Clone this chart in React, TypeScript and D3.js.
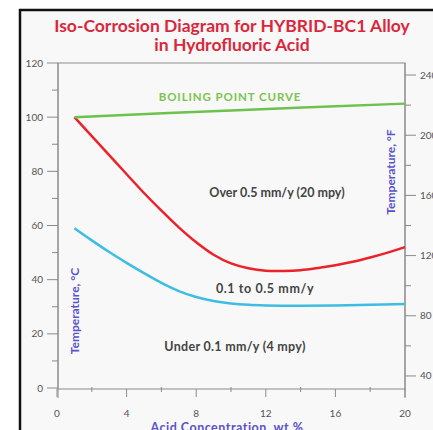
import React from 'react';
import * as d3 from 'd3';

// curve data (conc in wt %, temperature in °C)
const boilingConc = [1, 10, 20];
const boilingTemp = [100, 102.5, 105];

const upperConc = [1, 3, 5, 6, 7, 8, 9, 10, 11, 12, 13, 14, 15, 16, 17, 18, 19, 20];
const upperTemp = [100, 86, 72, 65.5, 59.3, 53.8, 49.2, 46, 44.2, 43.3, 43.2, 43.5, 44.3, 45.3, 46.6, 48.2, 50, 52];

const lowerConc = [1, 2, 3, 4, 5, 6, 7, 8, 9, 10, 11, 12, 14, 16, 18, 20];
const lowerTemp = [59, 54.5, 50.2, 46.2, 42.4, 38.8, 35.8, 33.6, 32.1, 31.2, 30.7, 30.5, 30.4, 30.5, 30.7, 31];

const xTicks = [0, 4, 8, 12, 16, 20];
const xMinor = [2, 6, 10, 14, 18];
const cTicks = [0, 20, 40, 60, 80, 100, 120];
const cMinor = [10, 30, 50, 70, 90, 110];
const fTicks = [40, 80, 120, 160, 200, 240];
const fMinor = [60, 100, 140, 180, 220];

const W = 433;
const H = 430;
const left = 58, right = 405, top = 63, bottom = 389;

const App: React.FC = () => {
  const x = d3.scaleLinear().domain([0, 20]).range([left - 1, right]);
  const y = d3.scaleLinear().domain([0, 120]).range([bottom - 1, top]);
  const yF = d3.scaleLinear().domain([32, 248]).range([y(0), y(120)]);

  const line = (cs: number[], ts: number[]) =>
    d3.line<number>()
      .x((_, i) => x(cs[i]))
      .y(d => y(d))
      .curve(d3.curveCatmullRom.alpha(0.5))(ts) || '';

  const axisColor = '#8a8a8a';
  const labelColor = '#555';
  const purple = '#5a52c8';
  const font = 'Lato, "Open Sans", sans-serif';

  return (
    <svg width={W} height={H} style={{ position: 'absolute', left: 0, top: 0, background: '#fff' }}
      fontFamily={font}>
      <rect x={20} y={10} width={W} height={H} fill="#f8f8f8" />

      <text x={232} y={32} textAnchor="middle" fill="#d9283c" fontSize={17.5} fontWeight={700}>
        Iso-Corrosion Diagram for HYBRID-BC1 Alloy
      </text>
      <text x={232} y={51} textAnchor="middle" fill="#d9283c" fontSize={17.5} fontWeight={700}>
        in Hydrofluoric Acid
      </text>

      {/* plot frame */}
      <rect x={left} y={top} width={right - left} height={bottom - top} fill="none" stroke={axisColor} strokeWidth={1} />
      <line x1={left} x2={left} y1={top} y2={bottom + 9} stroke={axisColor} />
      <line x1={right} x2={right} y1={top} y2={bottom + 9} stroke={axisColor} />

      {/* left °C axis */}
      {cTicks.map(t => (
        <g key={'c' + t}>
          <line x1={47} x2={left} y1={y(t)} y2={y(t)} stroke={axisColor} />
          <text x={43} y={y(t)} dy="0.35em" textAnchor="end" fontSize={10} fill={labelColor}>{t}</text>
        </g>
      ))}
      {cMinor.map(t => (
        <line key={'cm' + t} x1={52} x2={left} y1={y(t)} y2={y(t)} stroke={axisColor} />
      ))}

      {/* right °F axis */}
      {fTicks.map(t => (
        <g key={'f' + t}>
          <line x1={right} x2={416} y1={yF(t)} y2={yF(t)} stroke={axisColor} />
          <text x={420} y={yF(t)} dy="0.35em" fontSize={10} fill={labelColor}>{t}</text>
        </g>
      ))}
      {fMinor.map(t => (
        <line key={'fm' + t} x1={right} x2={411} y1={yF(t)} y2={yF(t)} stroke={axisColor} />
      ))}

      {/* x axis */}
      {xTicks.map(t => (
        <g key={'x' + t}>
          <line x1={x(t)} x2={x(t)} y1={bottom} y2={bottom + 8} stroke={axisColor} />
          <text x={x(t)} y={417} textAnchor="middle" fontSize={10} fill={labelColor}>{t}</text>
        </g>
      ))}
      {xMinor.map(t => (
        <line key={'xm' + t} x1={x(t)} x2={x(t)} y1={bottom - 2} y2={bottom + 3} stroke={axisColor} />
      ))}
      <text x={227} y={432} textAnchor="middle" fontSize={12.5} fontWeight={700} fill={purple}
        letterSpacing={0.5}>
        Acid Concentration, wt %
      </text>

      {/* curves */}
      <path d={line(lowerConc, lowerTemp)} fill="none" stroke="#3ebde3" strokeWidth={2.5} />
      <path d={line(upperConc, upperTemp)} fill="none" stroke="#ec2129" strokeWidth={2.5} />
      <path d={line(boilingConc, boilingTemp)} fill="none" stroke="#6cc24a" strokeWidth={2.5} />

      {/* region labels */}
      <text x={230} y={97} dy="0.35em" textAnchor="middle" fontSize={11.5} fontWeight={700}
        fill="#7cc44e" letterSpacing={0.9}>BOILING POINT CURVE</text>
      <text x={277} y={193} dy="0.35em" textAnchor="middle" fontSize={12.5} fontWeight={700} fill="#444">
        Over 0.5 mm/y (20 mpy)
      </text>
      <text x={265} y={289} dy="0.35em" textAnchor="middle" fontSize={12.5} fontWeight={700} fill="#444"
        letterSpacing={0.6}>
        0.1 to 0.5 mm/y
      </text>
      <text x={235} y={347} dy="0.35em" textAnchor="middle" fontSize={12.5} fontWeight={700} fill="#444"
        letterSpacing={0.3}>
        Under 0.1 mm/y (4 mpy)
      </text>

      <text transform="translate(75,311) rotate(-90)" dy="0.35em" textAnchor="middle" fontSize={12}
        fontWeight={700} fill={purple}>Temperature, °C</text>
      <text transform="translate(391,172) rotate(-90)" dy="0.35em" textAnchor="middle" fontSize={12}
        fontWeight={700} fill={purple}>Temperature, °F</text>

      {/* photo frame */}
      <line x1={20} x2={20} y1={9} y2={H} stroke="#111" strokeWidth={2.5} />
      <line x1={19} x2={W} y1={10} y2={10} stroke="#111" strokeWidth={2.5} />
    </svg>
  );
};

export default App;
